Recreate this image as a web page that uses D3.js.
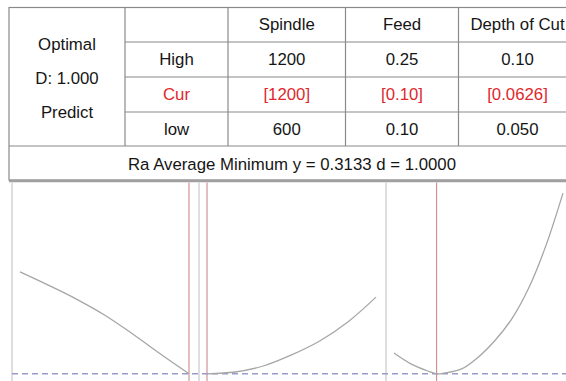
<!DOCTYPE html>
<html><head><meta charset="utf-8">
<script src="https://cdn.jsdelivr.net/npm/d3@7"></script>
<style>html,body{margin:0;padding:0;background:#fff;}svg{display:block;}</style>
</head><body>
<svg id="c" width="566" height="381"></svg>
<script>
// ---- data ----
const factors = ["Spindle", "Feed", "Depth of Cut"];
const highVals = ["1200", "0.25", "0.10"];
const curVals = ["[1200]", "[0.10]", "[0.0626]"];
const lowVals = ["600", "0.10", "0.050"];
const summaryLabels = ["Optimal", "D: 1.000", "Predict"];
const rowLabels = ["High", "Cur", "low"];
const responseText = "Ra Average Minimum y = 0.3133 d = 1.0000";
const yOptimum = 0.3133;
const factorLow = [600, 0.10, 0.05];
const factorHigh = [1200, 0.25, 0.10];
const factorCur = [1200, 0.10, 0.0626];
const spindleX = [600, 700, 800, 900, 1000, 1100, 1200];
const spindleY = [0.576, 0.542, 0.506, 0.465, 0.416, 0.364, 0.3133];
const feedX = [0.10, 0.125, 0.15, 0.175, 0.20, 0.225, 0.25];
const feedY = [0.3133, 0.318, 0.3335, 0.362, 0.398, 0.447, 0.511];
const depthX = [0.05, 0.055, 0.06, 0.0626, 0.065, 0.07, 0.075, 0.08, 0.085, 0.09, 0.095, 0.10];
const depthY = [0.367, 0.339, 0.3206, 0.3133, 0.3155, 0.326, 0.357, 0.4005, 0.457, 0.537, 0.645, 0.779];

const svg = d3.select("#c");
const font = "Arial, 'Liberation Sans', sans-serif";

// ---- table ----
const colX = [9, 125, 228, 345.5, 458.5, 576];
const rowY = [7.5, 42, 77, 112, 146];
const tBottom = 180;
const g = svg.append("g");
const lineC = "#8a8a8a";
g.append("rect").attr("x", colX[0]).attr("y", rowY[0]).attr("width", colX[5] - colX[0]).attr("height", tBottom - rowY[0])
  .attr("fill", "none").attr("stroke", lineC).attr("stroke-width", 1.2);
colX.slice(1, 5).forEach(x => g.append("line").attr("x1", x).attr("x2", x).attr("y1", rowY[0]).attr("y2", rowY[4]).attr("stroke", lineC).attr("stroke-width", 1.2));
rowY.slice(1, 4).forEach(yy => g.append("line").attr("x1", colX[1]).attr("x2", colX[5]).attr("y1", yy).attr("y2", yy).attr("stroke", lineC).attr("stroke-width", 1.2));
g.append("line").attr("x1", colX[0]).attr("x2", colX[5]).attr("y1", rowY[4]).attr("y2", rowY[4]).attr("stroke", lineC).attr("stroke-width", 1.2);

function txt(x, y, s, col) {
  g.append("text").attr("x", x).attr("y", y).attr("text-anchor", "middle").attr("dominant-baseline", "central")
    .attr("font-family", font).attr("font-size", 16.8).attr("fill", col || "#151515").text(s);
}
const c1 = (colX[0] + colX[1]) / 2;
[44, 78, 112].forEach((yy, i) => txt(c1, yy, summaryLabels[i]));
const c2 = (colX[1] + colX[2]) / 2;
const rowMid = i => (rowY[i] + rowY[i + 1]) / 2;
rowLabels.forEach((s, i) => txt(c2, rowMid(i + 1), s, i === 1 ? "#e0282c" : "#151515"));
factors.forEach((f, j) => {
  const cx = j < 2 ? (colX[j + 2] + colX[j + 3]) / 2 : 517.5;
  txt(cx, rowMid(0), f);
  txt(cx, rowMid(1), highVals[j]);
  txt(cx, rowMid(2), curVals[j], "#e0282c");
  txt(cx, rowMid(3), lowVals[j]);
});
txt((colX[0] + colX[5]) / 2 - 0.5, 164, responseText);
svg.append("line").attr("x1", 9).attr("x2", 566).attr("y1", 181).attr("y2", 181).attr("stroke", "#a0a0a0").attr("stroke-width", 2.5);

// ---- plots ----
const y = d3.scaleLinear().domain([0.30, 0.80]).range([379, 185]);
const panelX0 = [12, 199, 386];
const panelW = 187;
const xs = factorLow.map((lo, i) => d3.scaleLinear().domain([lo, factorHigh[i]]).range([panelX0[i] + 8, panelX0[i] + panelW - 10]));
const plotG = svg.append("g");
panelX0.forEach(x => plotG.append("line").attr("x1", x).attr("x2", x).attr("y1", 182.5).attr("y2", 381).attr("stroke", "#cccccc").attr("stroke-width", 1.3));
factorCur.forEach((v, i) => plotG.append("line").attr("x1", xs[i](v)).attr("x2", xs[i](v)).attr("y1", 182.5).attr("y2", 381).attr("stroke", "#cf8a8a").attr("stroke-width", 1.1));
plotG.append("line").attr("x1", 12).attr("x2", 566).attr("y1", y(yOptimum)).attr("y2", y(yOptimum))
  .attr("stroke", "#9a9acc").attr("stroke-width", 1.5).attr("stroke-dasharray", "6,4");
const series = [[spindleX, spindleY], [feedX, feedY], [depthX, depthY]];
series.forEach(([xv, yv], i) => {
  const line = d3.line().x(d => xs[i](d[0])).y(d => y(d[1])).curve(d3.curveCatmullRom);
  plotG.append("path").datum(xv.map((v, k) => [v, yv[k]])).attr("d", line)
    .attr("fill", "none").attr("stroke", "#a6a6a6").attr("stroke-width", 1.3);
});
</script>
</body></html>
